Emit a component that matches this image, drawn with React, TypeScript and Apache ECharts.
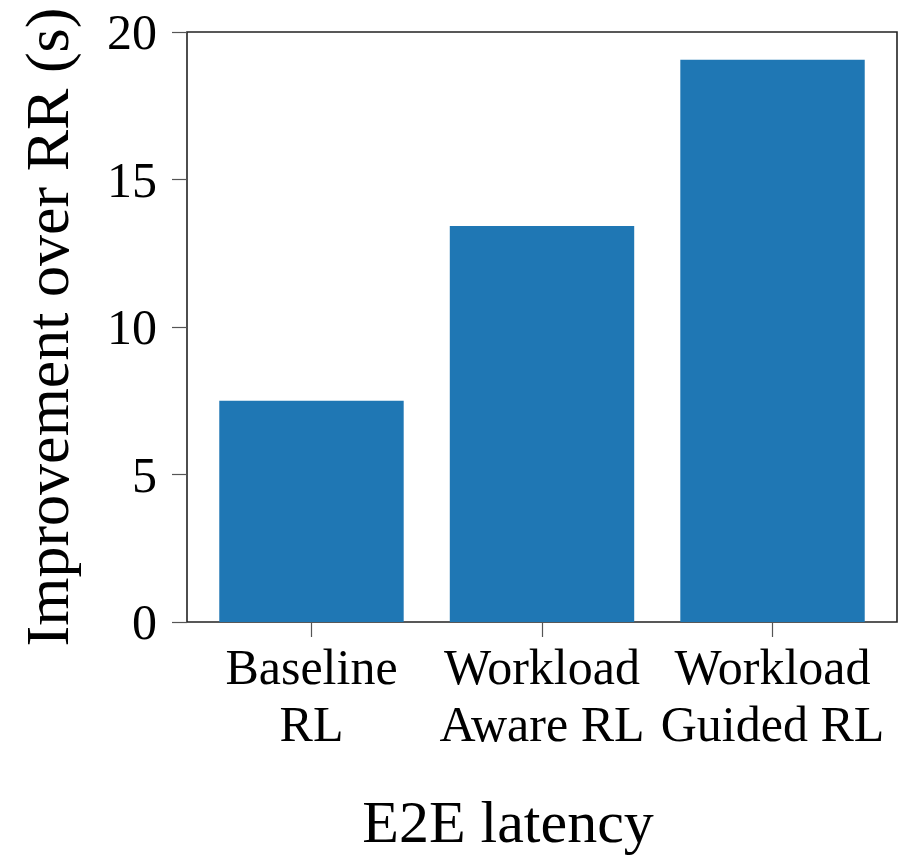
import React, { useEffect, useRef } from "react";
import * as echarts from "echarts";

const categories = ["Baseline\nRL", "Workload\nAware RL", "Workload\nGuided RL"];
const positions = [0, 1, 2];
const improvement = [7.5, 13.42, 19.06];
const yTicks = [0, 5, 10, 15, 20];

const FONT = "'Liberation Serif', 'Times New Roman', serif";

export default function App() {
  const ref = useRef<HTMLDivElement>(null);

  useEffect(() => {
    document.body.style.margin = "0";
    if (!ref.current) return;
    const chart = echarts.init(ref.current, undefined, { renderer: "svg" });
    chart.setOption({
      animation: false,
      backgroundColor: "#ffffff",
      grid: {
        left: 187,
        right: 16,
        top: 32,
        bottom: 237,
        show: true,
        borderColor: "#222222",
        borderWidth: 1.6,
        backgroundColor: "transparent",
      },
      xAxis: {
        type: "value",
        min: -0.54,
        max: 2.54,
        splitLine: { show: false },
        axisLine: { show: false, onZero: false },
        axisTick: {
          show: true,
          customValues: positions,
          length: 15,
          lineStyle: { color: "#555555", width: 1.2 },
        },
        axisLabel: {
          customValues: positions,
          formatter: (v: number) => categories[Math.round(v)] ?? "",
          fontFamily: FONT,
          fontSize: 50,
          lineHeight: 57,
          color: "#000000",
          margin: 16,
          align: "center",
        },
        name: "E2E latency",
        nameLocation: "middle",
        nameGap: 170,
        nameTextStyle: {
          fontFamily: FONT,
          fontSize: 60,
          lineHeight: 60,
          color: "#000000",
          padding: [0, 68, 0, 0],
        },
      },
      yAxis: {
        type: "value",
        min: yTicks[0],
        max: yTicks[yTicks.length - 1],
        interval: 5,
        splitLine: { show: false },
        axisLine: { show: false, onZero: false },
        axisTick: {
          show: true,
          length: 15,
          lineStyle: { color: "#555555", width: 1.2 },
        },
        axisLabel: {
          fontFamily: FONT,
          fontSize: 50,
          color: "#000000",
          margin: 30,
        },
        name: "Improvement over RR (s)",
        nameLocation: "middle",
        nameRotate: 90,
        nameGap: 109,
        nameTextStyle: {
          fontFamily: FONT,
          fontSize: 62,
          lineHeight: 62,
          color: "#000000",
        },
      },
      series: [
        {
          type: "bar",
          data: positions.map((p, i) => [p, improvement[i]]),
          barWidth: "80%",
          itemStyle: { color: "#1f77b4" },
        },
      ],
    });
    return () => chart.dispose();
  }, []);

  return (
    <div
      ref={ref}
      style={{ position: "absolute", left: 0, top: 0, width: 913, height: 859 }}
    />
  );
}
